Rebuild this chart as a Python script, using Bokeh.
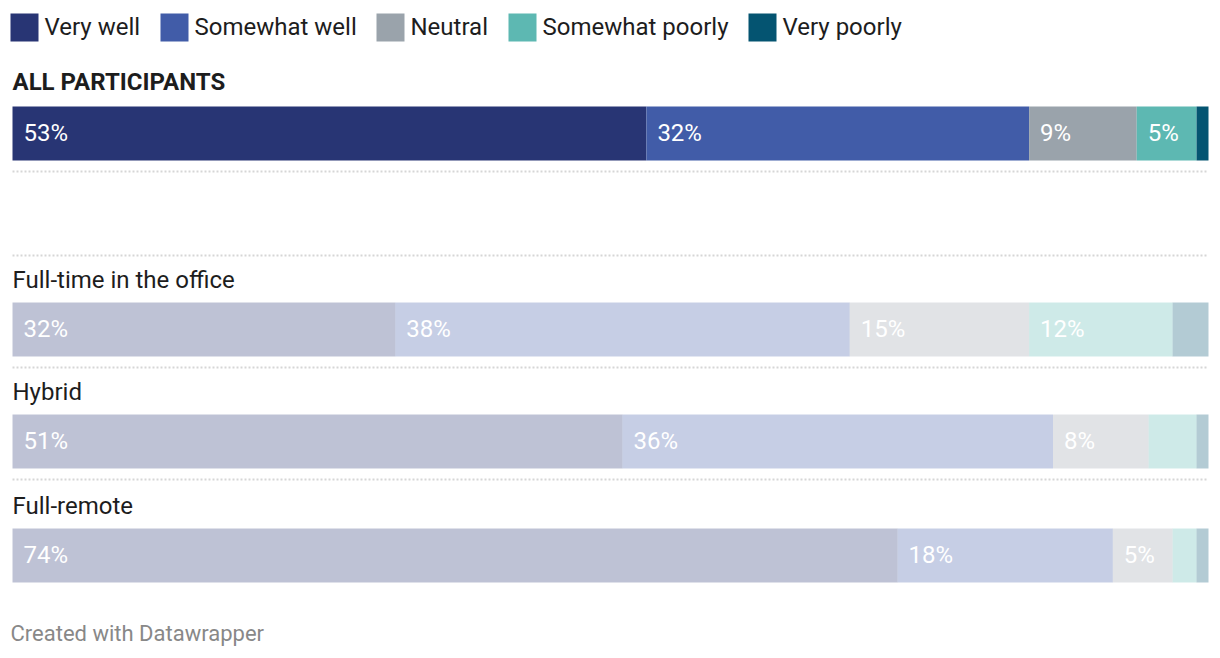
from bokeh.plotting import figure
from bokeh.models import Range1d, ColumnDataSource
from bokeh.embed import file_html
from bokeh.resources import INLINE
from bokeh.core.properties import value

# ---------------- data ----------------
series = ["Very well", "Somewhat well", "Neutral", "Somewhat poorly", "Very poorly"]
colors = ["#283574", "#415ca8", "#9aa3ab", "#5db8b2", "#045471"]
groups = ["ALL PARTICIPANTS", "Full-time in the office", "Hybrid", "Full-remote"]
very_well = [53, 32, 51, 74]
somewhat_well = [32, 38, 36, 18]
neutral = [9, 15, 8, 5]
somewhat_poorly = [5, 12, 4, 2]
very_poorly = [1, 3, 1, 1]
highlighted = [True, False, False, False]

values = [very_well, somewhat_well, neutral, somewhat_poorly, very_poorly]

# ---------------- layout ----------------
W, H = 1216, 654
PX = 11.96          # pixels per percentage point
X0 = 12             # left pixel of bars inside figure
TY = -9             # text baseline correction
FONT = "Roboto"

def xd(px):
    return (px - X0) / PX

bar_tops = [106, 302, 414, 528]
bar_h = 54

p = figure(width=W, height=H, output_backend="svg", toolbar_location=None,
           x_range=Range1d(xd(0), xd(W)), y_range=Range1d(H, 0),
           min_border=0, min_border_left=0, min_border_right=0,
           min_border_top=0, min_border_bottom=0)
p.axis.visible = False
p.grid.visible = False
p.outline_line_color = None
p.background_fill_color = "white"
p.border_fill_color = "white"

# ---------------- bars ----------------
for gi, g in enumerate(groups):
    top = bar_tops[gi]
    yc = top + bar_h / 2
    left = 0
    alpha = 1.0 if highlighted[gi] else 0.3
    lefts, rights, cols, labx, labt = [], [], [], [], []
    for si in range(len(series)):
        v = values[si][gi]
        lefts.append(left)
        rights.append(left + v)
        cols.append(colors[si])
        if v >= 5:
            labx.append(left + xd(X0 + 11))
            labt.append(f"{v}%")
        left += v
    src = ColumnDataSource(dict(left=lefts, right=rights, color=cols,
                                y=[yc] * len(lefts)))
    p.hbar(y="y", left="left", right="right", height=bar_h, fill_color="color",
           fill_alpha=alpha, line_color=None, source=src)
    p.text(x=labx, y=[top + 35 + TY] * len(labx), text=labt, text_color="white",
           text_font=value(FONT), text_font_size="24px",
           text_baseline="alphabetic", text_align="left")
    # group label
    if highlighted[gi]:
        p.text(x=[xd(X0)], y=[top - 16 + TY], text=[g], text_color="#1d1d1d",
               text_font=value(FONT), text_font_size="24px",
               text_font_style="bold", text_baseline="alphabetic")
    else:
        p.text(x=[xd(X0)], y=[top - 14 + TY], text=[g], text_color="#1d1d1d",
               text_font=value(FONT), text_font_size="24px",
               text_baseline="alphabetic")

# ---------------- separators ----------------
sep_y = [bar_tops[0] + bar_h + 11, 255, bar_tops[1] + bar_h + 11, bar_tops[2] + bar_h + 11]
for y in sep_y:
    p.line(x=[0, 100], y=[y, y], line_color="#d6d6d6", line_width=2, line_dash="2 2")

# ---------------- legend ----------------
leg_sq_left = [10, 160, 376, 508, 748]
leg_y = 27
for i, s in enumerate(series):
    p.rect(x=[xd(leg_sq_left[i] + 14)], y=[leg_y], width=28, height=28,
           width_units="screen", height_units="screen",
           fill_color=colors[i], line_color=None)
    p.text(x=[xd(leg_sq_left[i] + 34)], y=[leg_y + 8 + TY], text=[s], text_color="#1d1d1d",
           text_font=value(FONT), text_font_size="24px", text_baseline="alphabetic")

# ---------------- footer ----------------
p.text(x=[xd(10)], y=[642 + TY], text=["Created with Datawrapper"], text_color="#888888",
       text_font=value(FONT), text_font_size="22px", text_baseline="alphabetic")

open("out.html", "w").write(file_html(p, INLINE))
